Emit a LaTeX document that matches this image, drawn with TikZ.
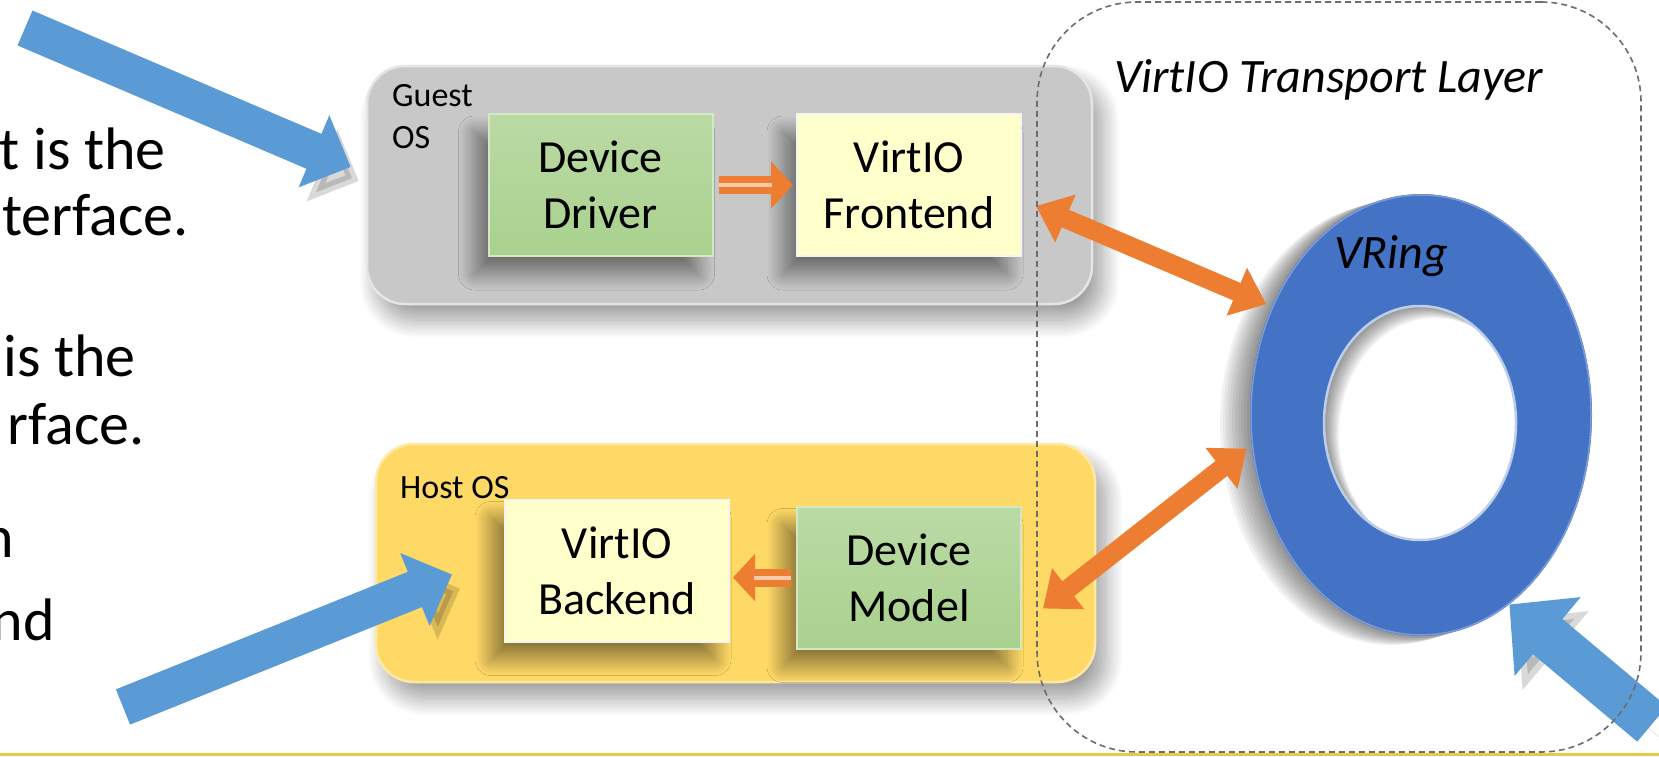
\documentclass[tikz,border=0pt]{standalone}
\usepackage{fontspec}
\setmainfont{Carlito}
\usetikzlibrary{arrows.meta,shapes.geometric,shadows.blur}

\definecolor{osgray}{HTML}{C8C8C8}
\definecolor{osyellow}{HTML}{FFD966}
\definecolor{boxgreen}{HTML}{A9D18E}
\definecolor{boxcream}{HTML}{FFFFCC}
\definecolor{linkorange}{HTML}{ED7D31}
\definecolor{pointblue}{HTML}{5B9BD5}
\definecolor{ringblue}{HTML}{4472C4}
\definecolor{rulegold}{HTML}{E9C94B}

\newcommand\sidefont{\fontsize{60}{72}\selectfont}
\newcommand\partfont{\fontsize{46}{56}\selectfont}
\newcommand\osfont{\fontsize{34}{42}\selectfont}
\newcommand\layerfont{\fontsize{48}{56}\selectfont\itshape}

\tikzset{
  sidetext/.style={anchor=base east, inner sep=0pt, font=\sidefont},
  osbox/.style={rounded corners=38pt, minimum height=238pt, line width=2.5pt,
    blur shadow={shadow xshift=10pt, shadow yshift=-16pt, shadow blur radius=18pt, shadow blur steps=30, shadow opacity=40}},
  oslabel/.style={anchor=north west, inner sep=0pt, align=left, font=\osfont},
  partbox/.style={minimum width=224pt, minimum height=142pt, align=center, font=\partfont,
    line width=2pt, blur shadow={shadow xshift=-14pt, shadow yshift=-18pt, shadow blur radius=16pt, shadow blur steps=30, shadow opacity=45}},
  steplink/.style={draw=linkorange, line width=18pt, -{Triangle[length=22pt,width=46pt]}, shorten <=5pt, shorten >=3pt,
    postaction={draw=linkorange!40!white, line width=4pt, -, shorten >=24pt}},
  ringlink/.style={draw=linkorange, line width=19pt, {Triangle[length=32pt,width=50pt]}-{Triangle[length=32pt,width=50pt]}, shorten >=6pt},
  pointer/.style={draw=pointblue, line width=38pt, -{Triangle[length=40pt,width=76pt]},
    preaction={draw=black, opacity=.15, transform canvas={shift={(8pt,-14pt)}}}}
}

\begin{document}
\begin{tikzpicture}[x=1pt,y=-1pt]
  \useasboundingbox (0,0) rectangle (1659,756);

  \node[sidetext] (side1) at (166,169) {t is the};
  \node[sidetext] (side2) at (189,235) {terface.};
  \node[sidetext] (side3) at (136,376) {is the};
  \node[sidetext] (side4) at (145,444) {rface.};
  \node[sidetext] (side5) at (14,557) {n};
  \node[sidetext] (side6) at (55,640) {nd};

  \node[osbox, fill=osgray, draw=white!90!black, minimum width=725pt] (guest) at (729.5,185) {};
  \node[oslabel] (guestlabel) at (392,84) {Guest\\OS};
  \node[partbox, top color=boxgreen!80!white, bottom color=boxgreen, draw=boxgreen!50!white] (driver) at (600.5,185) {Device\\Driver};
  \node[partbox, fill=boxcream, draw=boxcream!80!black!20!white] (frontend) at (909,185) {VirtIO\\Frontend};
  \draw[steplink] (driver.east) -- (frontend.west);

  \node[osbox, fill=osyellow, draw=osyellow!60!white, minimum width=719pt] (host) at (735.5,563) {};
  \node[oslabel] (hostlabel) at (400,476) {Host OS};
  \node[partbox, fill=boxcream, draw=boxcream!80!black!20!white] (backend) at (617,570.5) {VirtIO\\Backend};
  \node[partbox, top color=boxgreen!80!white, bottom color=boxgreen, draw=boxgreen!50!white] (model) at (909,577.5) {Device\\Model};
  \draw[steplink] (model.west) -- (model.west -| backend.east);

  \node[ellipse, minimum width=342pt, minimum height=442pt, inner sep=0pt] (ring) at (1421,415) {};
  \foreach \s in {3,6,...,30}
    \fill[black, opacity=.05, even odd rule] (1421-\s,415+0.3*\s) ellipse [x radius=171, y radius=221] (1420+0.5*\s,423+0.4*\s) ellipse [x radius=96, y radius=117];
  \fill[ringblue, even odd rule] (ring.center) ellipse [x radius=171, y radius=221] (1420,423) ellipse [x radius=96, y radius=117];
  \draw[ringblue!35!white, line width=2.5pt] (1420,423) ellipse [x radius=96, y radius=117];
  \draw[ringblue!70!white, line width=1.5pt] (ring.center) ellipse [x radius=170, y radius=220];
  \node[anchor=base west, inner sep=0pt, font=\layerfont] (vring) at (1334,268) {VRing};

  \draw[ringlink] ([xshift=14pt,yshift=-21pt]frontend.east) -- (ring.144);
  \draw[ringlink] ([xshift=21pt,yshift=-31pt]model.east) -- (ring.190);

  \coordinate (tailA) at (25,28);
  \coordinate (tailB) at (123,707);
  \coordinate (tailC) at (1652,724);
  \draw[pointer] (tailA) -- ([xshift=-15pt,yshift=18pt]guest.west);
  \draw[pointer] (tailB) -- ([xshift=-52pt,yshift=-4pt]backend.west);
  \draw[pointer, line width=46pt, -{Triangle[length=50pt,width=100pt]}] (tailC) -- (ring.-65);

  \node[draw=gray!85!black, dash pattern=on 6pt off 4pt, line width=1.6pt, rounded corners=100pt,
    minimum width=604pt, minimum height=750pt] (transport) at (1339,377) {};
  \node[anchor=base west, inner sep=0pt, font=\layerfont] (layer) at (1114,92) {VirtIO Transport Layer};

  \draw[rulegold, line width=3pt] (0,754.5) -- (1659,754.5);
\end{tikzpicture}
\end{document}
